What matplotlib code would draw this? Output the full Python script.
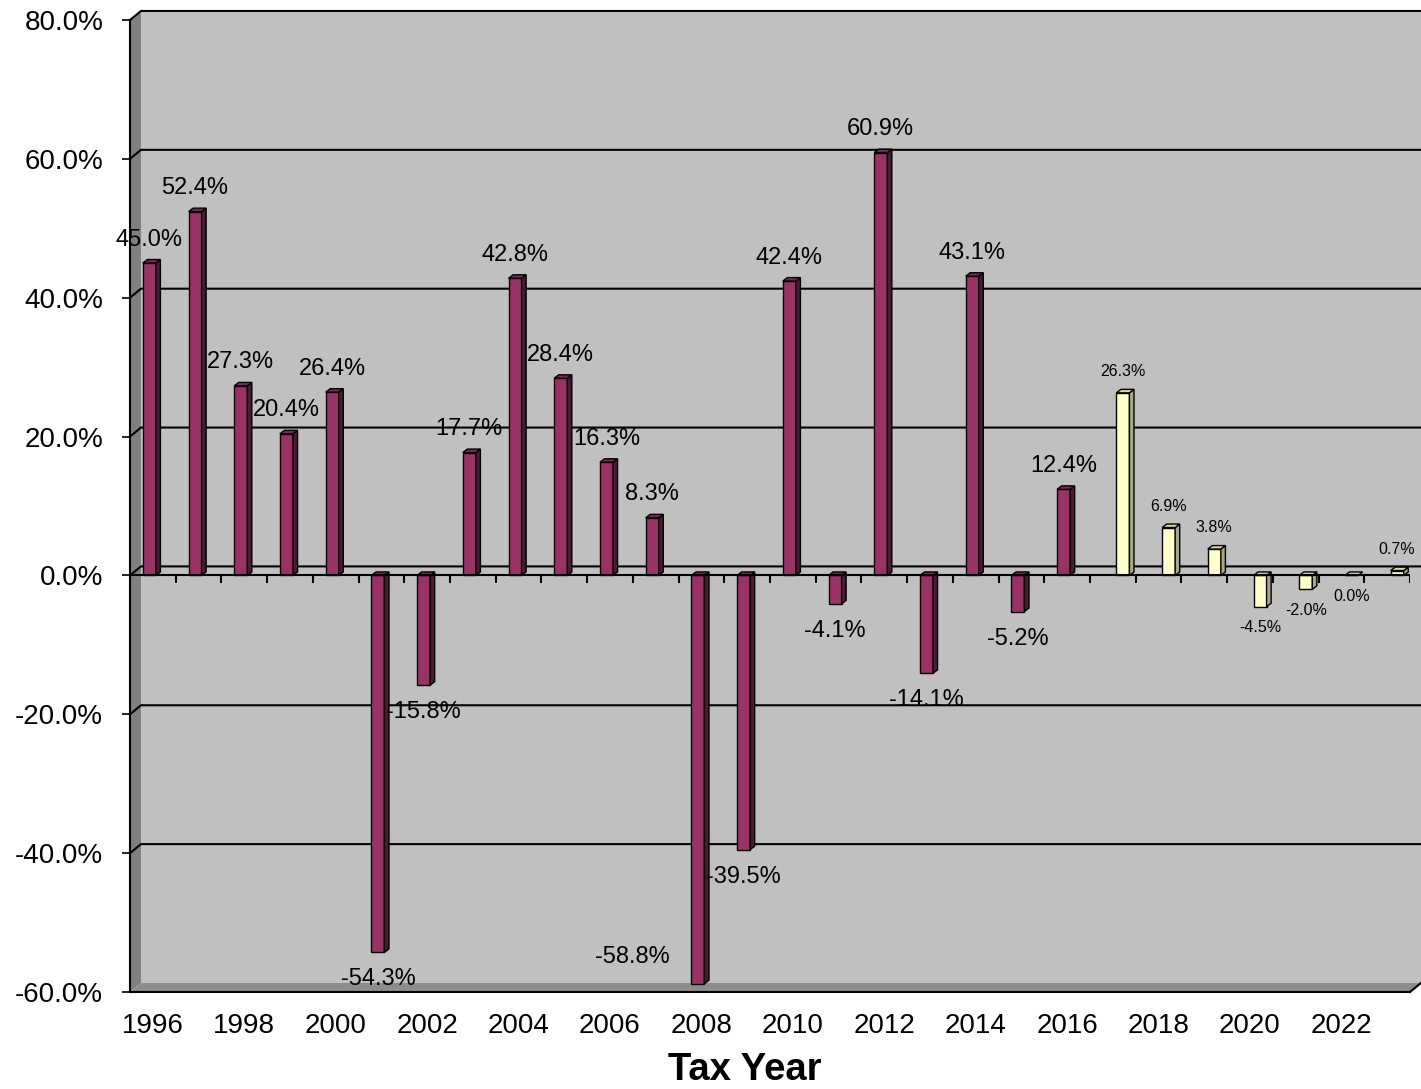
import matplotlib
matplotlib.use("Agg")
import matplotlib.pyplot as plt
import numpy as np
from matplotlib.patches import Polygon

plt.rcParams['font.family'] = ['Liberation Sans', 'DejaVu Sans']

# Yearly change, actual years (maroon) and projected years (yellow)
years = list(range(1996, 2024))
actual = [45.0, 52.4, 27.3, 20.4, 26.4, -54.3, -15.8, 17.7, 42.8, 28.4, 16.3, 8.3,
          -58.8, -39.5, 42.4, -4.1, 60.9, -14.1, 43.1, -5.2, 12.4]
projected = [26.3, 6.9, 3.8, -4.5, -2.0, 0.0, 0.7]
y_ticks = [-60, -40, -20, 0, 20, 40, 60, 80]

# Fake 3D look of the Excel chart: depth of the walls and of each column
WALL_DX, WALL_DY = 0.24, 1.3
BAR_W, BAR_DX, BAR_DY = 0.285, 0.1, 0.5
Y_MIN, Y_MAX = y_ticks[0], y_ticks[-1]

fig = plt.figure(figsize=(14.21, 10.89), dpi=100)
ax = fig.add_axes([130 / 1421, 97 / 1089, 1280 / 1421, 972 / 1089])
n = len(years)
x0, x1 = -0.5, n - 0.5
ax.set_xlim(x0, x1)
ax.set_ylim(Y_MIN, Y_MAX)
ax.patch.set_visible(False)

# Walls: back wall, left side wall and floor
ax.add_patch(Polygon([(x0 + WALL_DX, Y_MIN + WALL_DY), (x1 + WALL_DX, Y_MIN + WALL_DY),
                      (x1 + WALL_DX, Y_MAX + WALL_DY), (x0 + WALL_DX, Y_MAX + WALL_DY)],
                     fc='#c0c0c0', ec='none', clip_on=False, zorder=0))
ax.add_patch(Polygon([(x0, Y_MIN), (x0 + WALL_DX, Y_MIN + WALL_DY),
                      (x0 + WALL_DX, Y_MAX + WALL_DY), (x0, Y_MAX)],
                     fc='#808080', ec='none', clip_on=False, zorder=0))
ax.add_patch(Polygon([(x0, Y_MIN), (x1, Y_MIN), (x1 + WALL_DX, Y_MIN + WALL_DY),
                      (x0 + WALL_DX, Y_MIN + WALL_DY)],
                     fc='#8c8c8c', ec='none', clip_on=False, zorder=0))

# Gridlines on the back wall, with the short diagonal over the side wall
for t in y_ticks[1:]:
    ax.plot([x0, x0 + WALL_DX, x1 + WALL_DX], [t, t + WALL_DY, t + WALL_DY],
            color='black', lw=1.5, clip_on=False, zorder=1)
ax.plot([x1, x1 + WALL_DX], [Y_MIN, Y_MIN + WALL_DY], color='black', lw=1.5,
        clip_on=False, zorder=1)

# Front category axis at zero, with its tick marks
ax.axhline(0, color='black', lw=1.5, zorder=4)
ax.vlines(np.arange(n + 1) - 0.5, -1.15, 0, color='black', lw=1.5, zorder=4)


def draw_columns(idx, vals, shift, face, top_c, side_c, size, up, down):
    bars = ax.bar(np.asarray(idx) + shift, vals, width=BAR_W, align='edge',
                  color=face, edgecolor='black', linewidth=1, zorder=3)
    for rect, v in zip(bars, vals):
        xa = rect.get_x()
        xb = xa + rect.get_width()
        lo, hi = min(v, 0), max(v, 0)
        ax.add_patch(Polygon([(xb, lo), (xb + BAR_DX, lo + BAR_DY),
                              (xb + BAR_DX, hi + BAR_DY), (xb, hi)],
                             fc=side_c, ec='black', lw=1, zorder=3))
        ax.add_patch(Polygon([(xa, hi), (xb, hi), (xb + BAR_DX, hi + BAR_DY),
                              (xa + BAR_DX, hi + BAR_DY)],
                             fc=top_c, ec='black', lw=1, zorder=3))
        cx = (xa + xb) / 2
        if v > 0:
            off = (0, up)
        else:
            off = (0, -down)
            # Excel pulls a label that would fall off the plot back to the bar's left
            if v - down * (100 / 72) / 6.943 < Y_MIN:
                off = (-47, 15)
        ax.annotate(f'{v:.1f}%', xy=(cx, v), xytext=off, textcoords='offset points',
                    ha='center', va='baseline', fontsize=size, zorder=5,
                    annotation_clip=False)


draw_columns(range(len(actual)), actual, -0.22, '#993366', '#7a2952', '#4d1a33',
             17, 12.6, 23.8)
draw_columns(range(len(actual), n), projected, 0.077, '#ffffcc', '#d6d6a8', '#a8a883',
             11.5, 12.2, 18.5)

# Axes
for s in ('top', 'right'):
    ax.spines[s].set_visible(False)
ax.spines['left'].set_linewidth(1.5)
ax.spines['bottom'].set_linewidth(1.5)
ax.spines['left'].set_zorder(4)
ax.set_yticks(y_ticks)
ax.set_yticklabels([f'{t:.1f}%' for t in y_ticks])
ax.tick_params(axis='y', length=5.8, width=1.2, pad=13.5, labelsize=20)
ax.set_xticks(range(0, n, 2))
ax.set_xticklabels([str(y) for y in years[::2]])
ax.tick_params(axis='x', length=0, pad=15, labelsize=20)

fig.text(745 / 1421, 9 / 1089, 'Tax Year', ha='center', va='baseline',
         fontsize=27.5, fontweight='bold')

fig.savefig('out.png', dpi=100, facecolor='white')
